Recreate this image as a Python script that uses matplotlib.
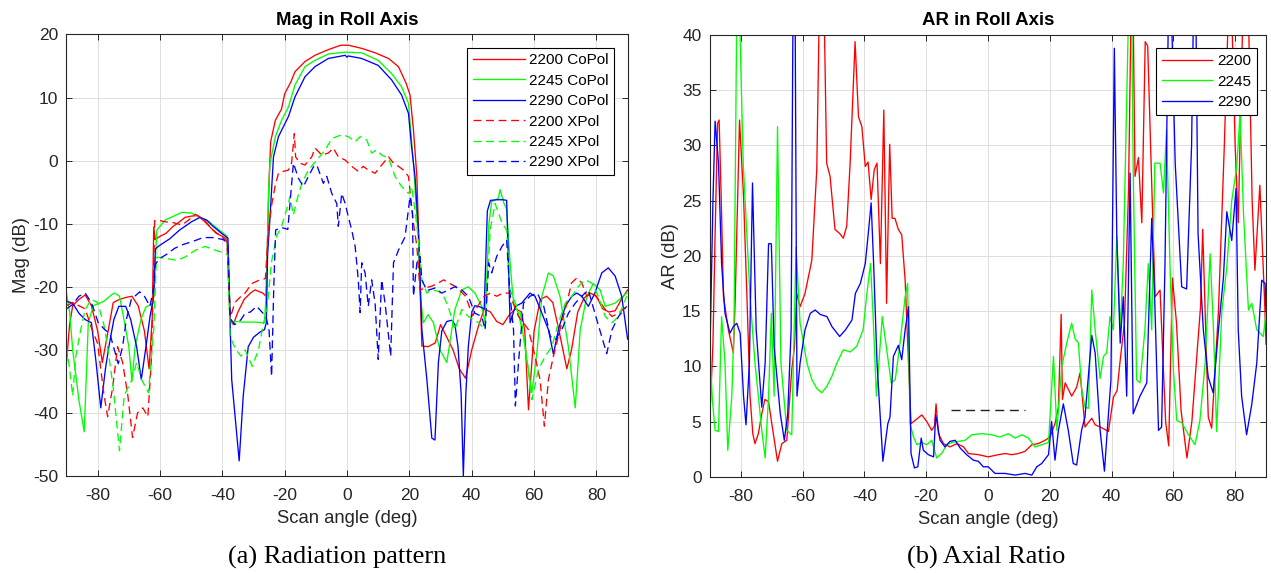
import numpy as np
import matplotlib
matplotlib.use("Agg")
import matplotlib.pyplot as plt

plt.rcParams['font.family'] = ['Liberation Sans', 'DejaVu Sans']
plt.rcParams['axes.unicode_minus'] = False

# ---------------- Mag in Roll Axis : (scan angle deg, dB) ----------------
co_2200 = [(-90, -32), (-89, -26), (-88, -23), (-86, -22), (-84, -21.3), (-82, -23), (-80, -27),
           (-78.5, -32), (-77, -28), (-75, -22.5), (-73, -22), (-71, -21.7), (-69, -21.5), (-67, -23),
           (-65, -27), (-63.5, -33), (-62.5, -25), (-62, -10.5), (-61.5, -12.5), (-60, -12), (-58, -11.5),
           (-56, -10.5), (-54, -9.8), (-52, -9), (-50, -8.8), (-48, -8.7), (-46, -9.5), (-44, -10.5),
           (-42, -11.5), (-40, -12), (-38.5, -12.5), (-37.5, -25), (-36.5, -26), (-35, -24), (-33, -22),
           (-31, -21), (-29.5, -20.5), (-27, -21), (-26, -21.5), (-25.5, -12), (-25, -3), (-24.5, 3),
           (-23, 6.4), (-21, 8.2), (-20, 10.6), (-18, 12.5), (-16.7, 14.1), (-13.5, 15.7), (-10.3, 16.7),
           (-6, 17.6), (-2, 18.3), (0.5, 18.3), (4.7, 17.8), (9, 17.1), (13.3, 16.2), (16.5, 14.9),
           (19, 12.2), (20.2, 10.4), (21.3, 4.9), (22.4, -2.5), (22.9, -11), (23.5, -21.5), (24, -29.4),
           (26, -29.5), (28.3, -28.9), (30, -26), (32, -28), (34, -30), (36, -33), (38, -34.5), (40, -30),
           (42, -26.5), (44, -23.5), (46, -24), (48, -25.5), (50, -26), (52, -24.5), (54, -23.5), (56, -24),
           (57, -27), (58.2, -39.5), (60, -27), (62, -22), (64, -21.5), (66, -22.5), (68, -27), (70.5, -33),
           (72, -30), (74, -24), (76, -21.8), (78, -21), (80, -21.5), (82, -23.5), (84, -24), (86, -23.8),
           (88, -22), (90, -20.5)]

co_2245 = [(-90, -21), (-89, -24), (-88, -30), (-86, -38), (-84.3, -43), (-83, -25.7), (-81.4, -23),
           (-78, -22.3), (-75.4, -21.2), (-74.5, -21), (-73, -21.5), (-72, -24), (-70, -29.5), (-69, -35),
           (-68, -29.5), (-66, -25), (-64.5, -23.2), (-62.3, -22.7), (-61.5, -16), (-61, -11), (-58.3, -9.4),
           (-55.6, -8.8), (-53, -8.2), (-50, -8.3), (-47.5, -8.9), (-44.5, -9.6), (-41, -11), (-38.5, -12),
           (-37.4, -25.8), (-36, -25.5), (-33, -25.6), (-30, -25.6), (-26.5, -25.7), (-25.8, -20),
           (-25.2, -5), (-24.7, -0.4), (-23, 3.8), (-21, 6.4), (-18.8, 8.5), (-16.7, 12), (-13.5, 14.9),
           (-10.3, 15.9), (-6, 16.9), (-0.6, 17.2), (4.7, 17.1), (10, 15.9), (14.3, 13.8), (17.5, 11.7),
           (19.7, 9.1), (21.3, -0.4), (22.4, -8.9), (22.9, -12.6), (23.4, -21), (24.5, -25.7), (26, -24.4),
           (27.7, -25.7), (29.8, -30), (32, -32), (34.6, -23.6), (36.8, -20.5), (38.9, -20), (41, -21),
           (43.2, -23.1), (44.3, -25.7), (45.5, -10), (46.4, -6.5), (48.5, -6), (49.1, -4.6), (50.2, -6.6),
           (51.2, -7.7), (52.3, -16.2), (53.4, -22.6), (55, -24.2), (56.6, -27.9), (59.3, -36.8), (61, -30),
           (62.5, -21.5), (64.6, -17.8), (66.2, -18.3), (68.3, -21.5), (71, -29.5), (73.2, -39.2),
           (74.8, -26.8), (76.9, -21.5), (79, -19.5), (81.2, -20.5), (82.8, -23.1), (86, -22.6), (89.7, -21)]

co_2290 = [(-90, -22.3), (-88, -22.6), (-86, -24.2), (-84, -25.2), (-82, -25.7), (-80.5, -32), (-79, -39.2),
           (-77.5, -33), (-76.4, -29.5), (-74.8, -25.2), (-73.2, -23.1), (-71, -23.1), (-69.4, -25.2),
           (-67.5, -29.5), (-66, -34.7), (-64.5, -29.5), (-63.2, -24.7), (-62, -21.5), (-61.5, -14),
           (-60, -13.4), (-56.9, -12.4), (-53.7, -11), (-49.9, -9.7), (-47.2, -9), (-45.1, -9.4), (-43, -10.4),
           (-40.3, -11.5), (-38.2, -12.3), (-37.5, -26), (-37, -34.7), (-34.6, -47.6), (-33.3, -37.3),
           (-31.7, -29.5), (-30, -28), (-28, -27.2), (-26.5, -26.8), (-25.9, -25.7), (-25.5, -15),
           (-24.7, -8.9), (-23.6, 0.6), (-22, 3.8), (-18.8, 7), (-16.7, 10.1), (-13.5, 13.3), (-10.3, 14.9),
           (-6, 16.2), (-0.6, 16.7), (0, 16.4), (0.4, 16.6), (4.7, 16.2), (10, 15.1), (14.3, 12.8),
           (17.5, 10.4), (19.7, 7.5), (20.7, 2.2), (21.8, -2.5), (22.9, -11), (24, -26.8), (25.6, -34.7),
           (27.2, -44), (28.2, -44.3), (29.3, -32), (30.4, -27), (32, -25.5), (33.6, -25.3), (34.6, -26),
           (35.6, -29.5), (36.6, -37), (37.3, -50), (38.1, -37), (38.9, -29.5), (40, -24), (41, -23),
           (42.7, -23.2), (44, -23.5), (45, -8), (46, -6.3), (48, -6.2), (50, -6.2), (51.2, -6.3),
           (52.3, -25.7), (54, -23.1), (56, -22.6), (58.7, -21), (60.3, -21.5), (62.5, -24.2), (64.6, -26.8),
           (66.2, -30.7), (67.8, -26.8), (70, -23.1), (72.1, -21.5), (73.7, -21), (75.3, -21.5),
           (77.4, -23.1), (79.5, -21), (81.7, -17.8), (83.8, -17), (86, -18.3), (88.1, -21.5), (90, -28.3)]

xp_2200 = [(-90, -23), (-88, -22.5), (-86, -23), (-84, -23.5), (-82, -26.5), (-80, -29), (-78, -37),
           (-76.8, -40.6), (-75.2, -36), (-73.6, -29.5), (-72, -32), (-70.3, -37.3), (-68.8, -43.9),
           (-67.2, -40), (-65.5, -39.2), (-63.9, -40.6), (-62.8, -32), (-62, -16.4), (-61.7, -9.5), (-60, -9.5),
           (-58.3, -9.7), (-56, -9.8), (-53, -10.2), (-51, -9.5), (-48.6, -8.5), (-46, -9.3), (-43, -11),
           (-40.5, -12), (-38.5, -12.8), (-37.5, -25), (-36, -22.5), (-34, -21.5), (-32.7, -21),
           (-30.6, -19.5), (-28.4, -19), (-26.2, -18.7), (-25.2, -11), (-24.1, -6.8), (-23.1, -4.1),
           (-22, -2), (-20.4, -1.7), (-18.8, -1.5), (-17.8, -0.4), (-16.9, 4.3), (-16.5, 0.6), (-15.1, -0.4),
           (-13.5, -0.7), (-11.3, 0.6), (-10.3, 2), (-8.1, 0.9), (-6, 1.2), (-4.4, 2), (-2.8, 0.6),
           (-0.6, 0.1), (1.5, -0.9), (3.6, -1.7), (5.2, -0.9), (6.8, -1.5), (9, -2), (11.1, -0.7),
           (13.3, 0.6), (14.9, -0.4), (16.5, -0.9), (18.1, -1.5), (19.7, -2.5), (21.3, -9.9), (22.4, -13.6),
           (23.4, -20.5), (25, -20.2), (27.2, -19.9), (29.3, -19.4), (31, -18.9), (33, -19.5), (35, -20),
           (38, -21.5), (40.3, -24.6), (42, -23), (44, -21.5), (46, -21), (48, -21.5), (50, -21), (52, -21),
           (55, -24.7), (58.2, -26.8), (60.3, -31), (61.9, -34.7), (63.3, -42.1), (64.6, -34.7),
           (66.2, -31), (68.3, -26.8), (70.5, -22.6), (72, -19.4), (73.7, -18.6), (75.3, -19.4),
           (76.9, -21.5), (79, -21), (80.6, -22), (82.8, -23.6), (85, -24.7), (87.1, -24.2), (89.7, -23.1)]

xp_2245 = [(-90, -29.5), (-89, -33), (-88, -37.3), (-87, -31), (-85.5, -27), (-84, -23.6), (-82, -22),
           (-80, -22.5), (-78, -26), (-76.8, -29.5), (-75, -36), (-73, -46), (-71.5, -37.3), (-69, -34.7),
           (-67.5, -32), (-65.9, -34.7), (-63.7, -36.8), (-62, -26.8), (-61.2, -16), (-61, -15.3),
           (-58, -15.5), (-54.7, -15.8), (-52, -15.3), (-48.6, -14.2), (-45.5, -13.6), (-42.3, -14.2),
           (-39, -14.7), (-38.3, -15), (-37.5, -28), (-35.6, -30), (-34, -31), (-32.7, -30), (-31.4, -31.5),
           (-30.4, -32.6), (-28.4, -30), (-26.8, -25.7), (-25.8, -24.1), (-24.2, -16), (-22.6, -12),
           (-21, -10.4), (-19.4, -7.8), (-18.3, -5.7), (-17.2, -8.6), (-16.1, -6.3), (-14.5, -3.6),
           (-12.4, -1.5), (-9.7, 0.1), (-7, 1.7), (-4.9, 3.5), (-1.7, 4.1), (0.4, 3.8), (2.6, 3), (4.2, 3.8),
           (6.3, 3.3), (7.9, 1.2), (9.5, 1.7), (11.1, 0.9), (13.3, 0.4), (15.4, -2.5), (17.5, -4.1),
           (19.7, -5.2), (20.7, -4.1), (21.8, -7.8), (22.9, -12.6), (24, -18.9), (25.6, -21), (27.2, -20.5),
           (29.3, -20.7), (31, -21.5), (32.5, -23.2), (34.6, -26.8), (36.8, -23.6), (38.9, -24.7),
           (42.2, -25.7), (44.3, -26.8), (45.9, -11), (47.5, -6.8), (49.7, -9.9), (51.2, -11), (52.3, -20.5),
           (54, -22.6), (55.6, -24.2), (57.8, -32), (59.3, -37.9), (61.4, -33.1), (63.6, -31), (65.7, -29.5),
           (67.8, -25.7), (70, -22.6), (72.1, -21.5), (74.3, -19.9), (76.4, -18.9), (78.5, -19.4),
           (80.6, -21.5), (82.8, -24.7), (85, -25.7), (87.1, -24.7), (89.7, -21.5)]

xp_2290 = [(-90, -23.5), (-88, -22.8), (-86, -21.5), (-84, -21), (-82, -22.5), (-79.8, -25.7), (-77.7, -26.8),
           (-76.1, -27.4), (-73.4, -32.2), (-72, -29.5), (-70.8, -25.2), (-69.2, -22), (-66.5, -20.8),
           (-65, -21.5), (-63.2, -23.1), (-62, -20), (-61.5, -16.4), (-60.1, -15.5), (-58, -14.9),
           (-55.3, -13.9), (-52.6, -13.3), (-49.4, -12.8), (-46.2, -12.2), (-43, -12.2), (-39.8, -12.5),
           (-38.2, -13.1), (-37.5, -25), (-36, -26), (-34, -25.2), (-32.7, -24.2), (-31, -24), (-29, -23.1),
           (-27.5, -23.9), (-26, -24.7), (-25, -27), (-24.2, -34.2), (-23.5, -20), (-22.9, -11), (-21, -10.6),
           (-19, -10.9), (-18, -5), (-17.2, -0.4), (-15.6, -2.8), (-14, -4.1), (-12.4, -2.5), (-10.8, -1),
           (-9.7, -0.7), (-7.6, -3.6), (-6.5, -2.5), (-4.9, -5.2), (-3.3, -6.8), (-2.8, -10.4), (-1.7, -5.2),
           (-0.6, -6.8), (0.4, -8.9), (1.5, -11), (2.6, -13.6), (3.6, -18.9), (4.2, -24.1), (4.7, -16.2),
           (5.8, -17.8), (6.8, -23.1), (7.9, -18.9), (9, -22.6), (10, -31.5), (11.1, -18.9), (12.2, -22.6),
           (14, -31), (14.9, -16.2), (16.5, -14.2), (18.6, -12.1), (20.2, -5.7), (21, -8.4), (21.3, -21.5),
           (22.4, -16.2), (23.4, -15.2), (24, -18.9), (25.6, -20.6), (28.2, -20.2), (30.4, -21), (32.5, -20.5),
           (34.6, -20), (36.8, -20.5), (38.9, -21.5), (41, -24.2), (43.2, -24.7), (44.3, -26.8), (45.4, -16.2),
           (46.4, -17.8), (48, -15.2), (49.7, -13.6), (51.2, -12.6), (52.3, -21.5), (53.4, -26.8),
           (54, -38.9), (55, -32), (56.6, -22.6), (58.7, -21.5), (61, -21), (63.1, -23.1), (65.2, -27.9),
           (66.8, -28.4), (68.9, -26.8), (71, -24.2), (73.2, -22.6), (75.3, -21.5), (77.4, -20.5),
           (79.5, -24.2), (81.7, -27.9), (83.3, -30.6), (85, -26.8), (87.1, -24.7), (89.7, -23.1)]

# ---------------- AR in Roll Axis : (scan angle deg, dB) ----------------
ar_2200 = [(-90, 5.4), (-89, 12), (-88.3, 22), (-87.5, 32), (-87, 32.3), (-86.3, 25), (-85.6, 16.3),
           (-84, 13.3), (-82.4, 11.2), (-81.8, 16), (-80.4, 32.3), (-79.1, 25.4), (-78, 16.3), (-77, 7.3),
           (-76.1, 3.9), (-75.4, 3), (-74.3, 3.9), (-73.2, 5.7), (-72.2, 7), (-71, 6.8), (-70, 4.9),
           (-68.1, 1.4), (-66.7, 3), (-65.1, 3.3), (-63.5, 9.7), (-62.6, 11.8), (-61.9, 16.6), (-60.8, 15.4),
           (-59.2, 16.6), (-57, 19.6), (-55.4, 27.8), (-54.6, 42), (-53, 42), (-52.2, 28.4), (-51.1, 27.2),
           (-49.5, 22.4), (-47.9, 22), (-46.8, 21.6), (-45.7, 22.7), (-44.6, 28.4), (-43, 39.4),
           (-41.9, 32.6), (-40.8, 31.7), (-39.7, 28.1), (-38.8, 28.5), (-37.8, 25.1), (-36.8, 27.8),
           (-35.9, 28.4), (-34.8, 19.3), (-33.7, 33.2), (-32.8, 15.7), (-31.8, 30.1), (-31, 23.4),
           (-30.1, 23.4), (-29, 22.4), (-27.9, 21.9), (-26.8, 17.8), (-25.7, 10.3), (-24.9, 4.8),
           (-23.6, 5.1), (-21.4, 5.6), (-19.8, 5), (-18.2, 4.2), (-17.3, 4.6), (-16.8, 6.6), (-16, 3.9),
           (-14.4, 3), (-12.3, 2.7), (-10, 3), (-7.9, 2.7), (-6.3, 2.1), (-3.1, 2), (0.1, 1.8), (3.4, 2),
           (5.5, 2.1), (7.7, 2), (9.8, 2.1), (12, 2.3), (14.2, 2.9), (16.3, 3), (18.5, 3.3), (20.1, 3.6),
           (21.7, 4.8), (22.8, 6.3), (23.7, 14.7), (24.1, 7), (25, 8.5), (27.1, 7.3), (28.7, 8.1), (29.8, 9.4),
           (30.3, 8), (31.4, 4.5), (33.6, 5.3), (34.7, 4.7), (36.3, 4.5), (38.4, 4.2), (39, 4.1), (40.6, 7.2),
           (41.8, 7.8), (42.7, 10.3), (44.2, 14), (45.5, 26), (46.3, 42), (47, 42), (47.6, 27.2),
           (48.7, 28.9), (49.8, 23), (50.9, 39.4), (51.7, 39), (52.8, 28.4), (54.1, 16.3), (55.7, 16.9),
           (57.5, 5), (58.5, 2.8), (59.7, 18), (61, 14), (62.5, 6), (64.4, 1.7), (66, 5), (68.8, 15.4),
           (69.5, 22.4), (71.3, 5.4), (72.4, 4.4), (74.6, 15), (76.5, 30), (77.8, 42), (78.9, 42), (80, 30),
           (81, 23), (82.5, 42), (84.3, 42), (85.5, 25), (86.4, 18.7), (88, 26.4), (89.6, 15.4), (90, 12)]

ar_2245 = [(-90, 11.8), (-89.2, 7), (-88.3, 4.2), (-87.2, 4.1), (-86.2, 14.5), (-85.1, 10.3), (-84.2, 2.4),
           (-82.9, 7.3), (-82.2, 13.3), (-81.3, 42), (-80.4, 42), (-79.2, 28.4), (-77, 16.3), (-75.4, 10.3),
           (-74.3, 7.3), (-73.2, 4.2), (-72.1, 1.7), (-71, 7.3), (-70.1, 14.8), (-69.2, 7.3), (-68.1, 31.7),
           (-67, 10.3), (-65.1, 4.2), (-63.5, 3.8), (-62.1, 20.8), (-60.8, 13.9), (-58.6, 10.3), (-57, 8.8),
           (-55.4, 8), (-53.8, 7.6), (-52.1, 8.2), (-50.5, 9.1), (-48.9, 10.3), (-46.8, 11.5), (-44.6, 11.3),
           (-42.5, 11.8), (-40.4, 13.3), (-39.3, 16.3), (-38, 19.3), (-37.2, 14.8), (-36.1, 7.3),
           (-34.2, 14.5), (-32.9, 11.8), (-31.3, 8.5), (-30, 8.8), (-28.5, 12), (-26.8, 16.3), (-26, 17.5),
           (-25.2, 4.8), (-24.1, 3.6), (-23, 2.9), (-21.4, 3.1), (-19.8, 2.9), (-18.2, 3.3), (-16.6, 1.7),
           (-15, 2.1), (-13.3, 2.9), (-11.7, 3.1), (-9.6, 3.2), (-7.4, 3.3), (-5.2, 3.8), (-2, 3.9), (1.2, 3.8),
           (3.9, 3.6), (6.6, 3.9), (8.8, 3.5), (11, 3.8), (13.1, 3.5), (15.2, 2.7), (17.4, 2.9), (19.6, 3.1),
           (21.2, 10.9), (22.3, 4.2), (23.9, 10), (25.5, 12.1), (27.1, 13.9), (28.2, 12.5), (29.3, 12.1),
           (30.3, 8), (31.4, 6.3), (32.5, 6.2), (33.6, 16.9), (34.7, 13.3), (36.3, 8.9), (37.4, 10.9),
           (38.4, 11.2), (39.5, 14.5), (40.6, 13.3), (41.7, 21.8), (42.8, 13.3), (43.8, 19.3), (45.5, 42),
           (46.5, 42), (47, 28), (48.1, 8.8), (49.2, 8.5), (50.8, 13.3), (51.9, 19.3), (53, 13.3), (54, 28.4),
           (55.7, 28.4), (56.8, 25.7), (57.8, 31.4), (58.9, 19.3), (60, 9.7), (61.1, 5.1), (62.7, 4.9),
           (64.9, 3.8), (67, 2.9), (68.6, 5.1), (70.3, 10.3), (71.9, 20.2), (73, 13.3), (74, 4.1), (75.7, 15),
           (77.3, 19), (78.9, 25), (80.5, 28), (81.6, 32.9), (82.7, 23.9), (84.3, 15.1), (85.4, 15.7),
           (87, 13.3), (89.1, 12.7), (90, 14.8)]

ar_2290 = [(-90, 10.7), (-89, 25), (-88.3, 32.2), (-87.2, 28.4), (-86.2, 19.3), (-85.1, 14.8), (-83.5, 13),
           (-82.4, 13.6), (-81.3, 13.9), (-80.2, 13), (-79.1, 7.3), (-78.3, 4.7), (-77.2, 10.3), (-76.2, 26.6),
           (-75, 13.3), (-73.2, 6.3), (-72.1, 10.3), (-71, 21.1), (-70.1, 21.1), (-69.2, 11.8), (-67.2, 5.7),
           (-65.9, 3.3), (-64.8, 5.7), (-63.7, 13.3), (-63.1, 42), (-62.4, 42), (-61.8, 7.3), (-60.8, 10.3),
           (-59.2, 13.3), (-57.5, 14.8), (-55.9, 15.1), (-54.3, 14.7), (-52.1, 14.5), (-50.5, 13.6),
           (-48, 12.7), (-46.1, 13.3), (-44, 14.2), (-42.9, 16.6), (-41.3, 17.5), (-39.7, 19.3), (-38.6, 22.4),
           (-37.8, 24.8), (-37, 19.3), (-35.9, 10.3), (-34, 1.4), (-32.4, 4.8), (-31.7, 5.4), (-30.6, 10.9),
           (-29, 11.9), (-27.9, 10.6), (-26.8, 13.3), (-25.7, 15.4), (-24.9, 2.1), (-23.8, 0.8), (-22.7, 0.9),
           (-21.6, 3.5), (-20.9, 2.4), (-19.3, 2), (-17.6, 1.8), (-16.9, 5.6), (-15.5, 3.3), (-13.9, 2.7),
           (-12.3, 3.2), (-10.6, 3.3), (-9, 2.6), (-6.9, 2), (-4.7, 1.5), (-3.1, 1.4), (-1.5, 0.9), (0.1, 0.9),
           (2.3, 0.3), (5.5, 0.3), (8.8, 0.15), (12, 0.3), (14.2, 0.15), (15.8, 0.9), (17.4, 1.2), (19.6, 2),
           (20.6, 5), (21.7, 1.5), (22.8, 4.2), (24.4, 6.6), (26, 4.2), (27.6, 1.2), (28.7, 1.06), (30.3, 4.2),
           (31.4, 5.4), (33.6, 12.8), (34.7, 11.2), (36.3, 4.2), (37.7, 0.5), (39, 5.7), (39.8, 8.7),
           (40.9, 38.8), (41.7, 21.8), (42.8, 12.1), (43.8, 16.3), (44.9, 7.3), (46, 27.5), (47, 5.7),
           (49.2, 7.3), (51.4, 8.5), (53, 23.4), (54, 15.7), (55.2, 4.2), (56.2, 4.5), (57.3, 19.3),
           (58.4, 42), (59.4, 42), (60.6, 28.4), (62.7, 17.2), (64.3, 17), (65.9, 30), (66.5, 42), (67.3, 42),
           (68, 22), (69.7, 13.3), (71.3, 9), (72.9, 7.6), (74.6, 13.3), (76.2, 18), (77.3, 24), (78.9, 21.4),
           (80.3, 26.1), (81, 13.3), (82.1, 7.3), (83.7, 3.8), (85.4, 6.6), (87, 10.3), (88.6, 17.8),
           (89.7, 17.5), (90, 15)]

ar_limit = [(-12, 6), (12, 6)]

freqs = ["2200", "2245", "2290"]
colors = ["#ff0000", "#00ff00", "#0000ff"]
dash = (0, (6, 3.5))
ink = "#262626"


def style_axes(ax, ylim, yticks, title, ylabel):
    ax.set_xlim(-90, 90)
    ax.set_ylim(*ylim)
    ax.set_xticks(np.arange(-80, 81, 20))
    ax.set_yticks(yticks)
    ax.grid(True, color="#dfdfdf", linewidth=0.7)
    ax.set_axisbelow(True)
    for s in ax.spines.values():
        s.set_color(ink)
        s.set_linewidth(0.8)
    ax.tick_params(direction="in", length=4.5, width=0.7, top=True, right=True,
                   colors=ink, labelsize=12.5)
    ax.tick_params(axis="x", pad=9)
    ax.tick_params(axis="y", pad=6)
    ax.set_title(title, fontsize=13.4, fontweight="bold", color="black", pad=7)
    ax.set_xlabel("Scan angle (deg)", fontsize=13.3, color=ink, labelpad=5)
    ax.set_ylabel(ylabel, fontsize=13.3, color=ink, labelpad=2)


fig = plt.figure(figsize=(12.71, 5.73), dpi=100)
ax1 = fig.add_axes([0.0523, 0.1693, 0.4415, 0.7705])
ax2 = fig.add_axes([0.5585, 0.1680, 0.4376, 0.7709])

# left: co-pol solid, x-pol dashed
for f, c, data in zip(freqs, colors, [co_2200, co_2245, co_2290]):
    x, y = np.array(data).T
    ax1.plot(x, y, color=c, lw=0.95, label=f + " CoPol")
for f, c, data in zip(freqs, colors, [xp_2200, xp_2245, xp_2290]):
    x, y = np.array(data).T
    ax1.plot(x, y, color=c, lw=0.95, linestyle=dash, label=f + " XPol")
style_axes(ax1, (-50, 20), np.arange(-50, 21, 10), "Mag in Roll Axis", "Mag (dB)")
leg1 = ax1.legend(loc="upper right", bbox_to_anchor=(0.9758, 0.9694), borderaxespad=0,
                  fontsize=11, handlelength=3.4, handletextpad=0.3, labelspacing=0.42,
                  borderpad=0.35, fancybox=False, framealpha=1, edgecolor="black")
leg1.get_frame().set_linewidth(0.8)

# right: axial ratio
for f, c, data in zip(freqs, colors, [ar_2200, ar_2245, ar_2290]):
    x, y = np.array(data).T
    ax2.plot(x, y, color=c, lw=0.95, label=f)
lx, ly = np.array(ar_limit).T
ax2.plot(lx, ly, color="#222222", lw=1.0, linestyle=(0, (6.5, 4)))
style_axes(ax2, (0, 40), np.arange(0, 41, 5), "AR in Roll Axis", "AR (dB)")
leg2 = ax2.legend(loc="upper right", bbox_to_anchor=(0.9838, 0.9706), borderaxespad=0,
                  fontsize=11, handlelength=3.3, handletextpad=0.3, labelspacing=0.42,
                  borderpad=0.4, fancybox=False, framealpha=1, edgecolor="black")
leg2.get_frame().set_linewidth(0.8)

fig.text(0.265, 0.027, "(a) Radiation pattern", ha="center", va="center",
         fontsize=19, family=["Liberation Serif", "DejaVu Serif"])
fig.text(0.776, 0.027, "(b) Axial Ratio", ha="center", va="center",
         fontsize=19, family=["Liberation Serif", "DejaVu Serif"])

fig.savefig("out.png", dpi=100)
